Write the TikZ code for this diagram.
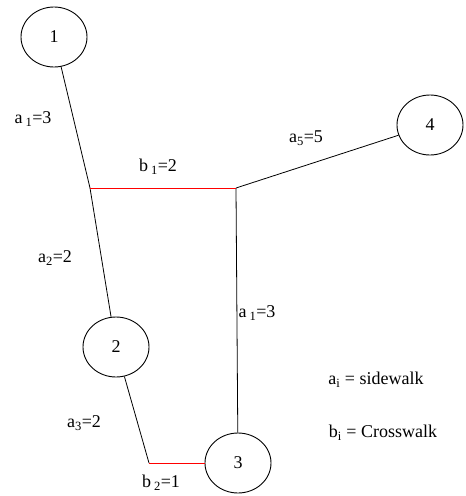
\documentclass[tikz,border=0pt]{standalone}
\usepackage{fontspec}
\setmainfont{Liberation Serif}
\usetikzlibrary{shapes.geometric}
\begin{document}
\begin{tikzpicture}[x=1pt,y=-1pt,
    site/.style={draw,ellipse,line width=0.9pt,minimum width=66pt,minimum height=60pt,inner sep=0pt},
    walk/.style={draw,line width=0.8pt},
    crosswalk/.style={draw,red,line width=0.9pt},
    lab/.style={font=\fontsize{18}{21}\selectfont,inner sep=0pt}]
    \useasboundingbox (0,0) rectangle (466,496);
    \node[site,lab] (n1) at (54,37) {1};
    \node[site,lab] (n2) at (116,347) {2};
    \node[site,lab] (n3) at (238,463) {3};
    \node[site,lab] (n4) at (430,125) {4};
    \coordinate (ja) at (90,188);
    \coordinate (jb) at (236,188);
    \coordinate (jc) at (149,463);

    \draw[walk] (n1) -- (ja);
    \draw[walk] (ja) -- (n2);
    \draw[walk] (jb) -- (n4);
    \draw[walk] (jb) -- (n3);
    \draw[walk] (n2) -- (jc);
    \draw[crosswalk] (ja) -- (jb);
    \draw[crosswalk] (jc) -- (n3);

    \node[lab] (la1) at (33,119) {a\,\textsubscript{1}=3};
    \node[lab] (lb1) at (158,167) {b\,\textsubscript{1}=2};
    \node[lab] (la5) at (306,138) {a\textsubscript{5}=5};
    \node[lab] (la2) at (55,258) {a\textsubscript{2}=2};
    \node[lab] (la3) at (84,423) {a\textsubscript{3}=2};
    \node[lab] (lb2) at (161,483) {b\,\textsubscript{2}=1};
    \node[lab] (la4) at (257,313) {a\,\textsubscript{1}=3};
    \node[lab] (keya) at (376,380) {a\textsubscript{i} = sidewalk};
    \node[lab] (keyb) at (383,433) {b\textsubscript{i} = Crosswalk};
\end{tikzpicture}
\end{document}
